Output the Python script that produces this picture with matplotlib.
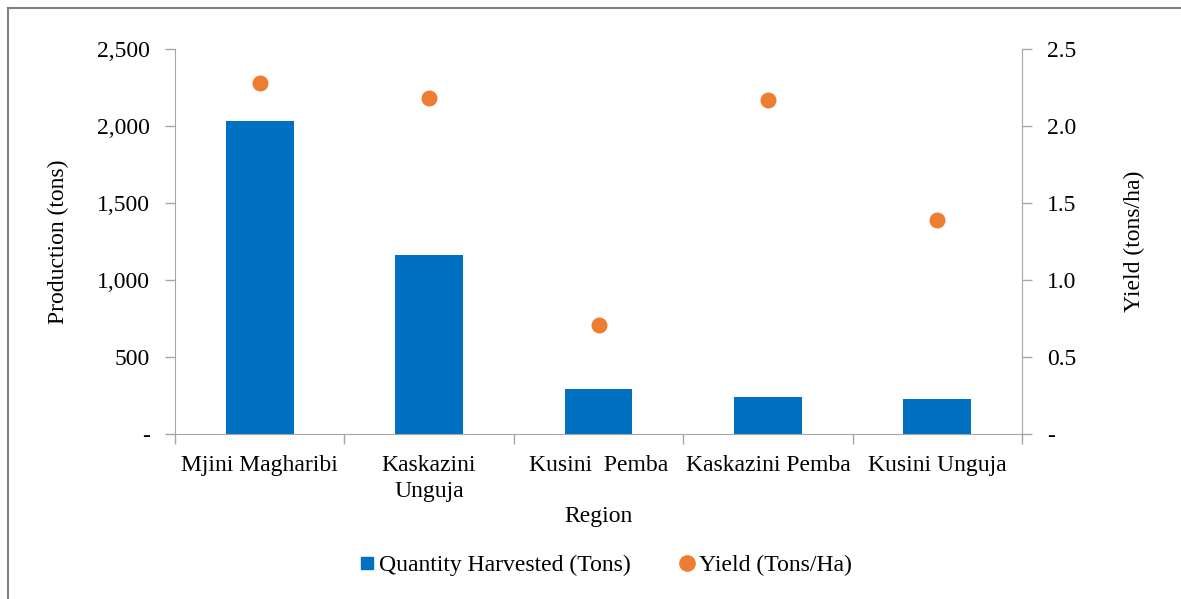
import matplotlib.pyplot as plt
from matplotlib.lines import Line2D
from matplotlib.ticker import FuncFormatter

regions = ["Mjini Magharibi", "Kaskazini\nUnguja", "Kusini  Pemba", "Kaskazini Pemba", "Kusini Unguja"]
quantity = [2030, 1165, 290, 240, 228]
yield_ha = [2.28, 2.18, 0.71, 2.17, 1.39]

BLUE = "#0070C0"
ORANGE = "#ED7D31"
GREY = "#A6A6A6"

plt.rcParams["font.family"] = ["Liberation Serif", "DejaVu Serif"]
plt.rcParams["font.size"] = 17

fig = plt.figure(figsize=(11.81, 5.99), dpi=100)
ax = fig.add_axes([175 / 1181, 1 - 434 / 599, (1022 - 175) / 1181, (434 - 49) / 599])
ax2 = ax.twinx()

x = list(range(len(regions)))
ax.bar(x, quantity, width=0.4, color=BLUE, label="Quantity Harvested (Tons)", zorder=2)
ax2.scatter(x, yield_ha, s=110, color=ORANGE, label="Yield (Tons/Ha)", zorder=3)

ax.set_xlim(-0.5, len(regions) - 0.5)
ax.set_ylim(0, 2500)
ax.set_yticks(range(0, 2501, 500))
ax.yaxis.set_major_formatter(FuncFormatter(lambda v, p: "-" if v == 0 else f"{v:,.0f}"))
ax2.set_ylim(0, 2.5)
ax2.set_yticks([0, 0.5, 1.0, 1.5, 2.0, 2.5])
ax2.yaxis.set_major_formatter(FuncFormatter(lambda v, p: "-" if v == 0 else f"{v:.1f}"))

ax.set_xticks(x)
ax.set_xticklabels(regions, linespacing=1.3)
ax.set_xticks([i - 0.5 for i in range(len(regions) + 1)], minor=True)
ax.tick_params(axis="x", which="major", length=0, pad=15)
ax.tick_params(axis="x", which="minor", length=7, color=GREY, width=1)
ax.tick_params(axis="y", length=7, color=GREY, width=1, pad=11)
ax2.tick_params(axis="y", length=7, color=GREY, width=1, pad=11)

for a in (ax, ax2):
    a.spines["top"].set_visible(False)
    for s in ("left", "right", "bottom"):
        a.spines[s].set_color(GREY)
ax.spines["right"].set_visible(False)
ax2.spines["left"].set_visible(False)
ax2.spines["bottom"].set_visible(False)

ax.set_ylabel("Production (tons)", labelpad=20)
ax2.set_ylabel("Yield (tons/ha)", labelpad=34)
ax.set_xlabel("Region", labelpad=3)

handles = [
    Line2D([], [], marker="s", linestyle="none", color=BLUE, markersize=9),
    Line2D([], [], marker="o", linestyle="none", color=ORANGE, markersize=11),
]
fig.legend(handles, ["Quantity Harvested (Tons)", "Yield (Tons/Ha)"], loc="center",
           bbox_to_anchor=(605 / 1181, 1 - 565 / 599), ncol=2, frameon=False,
           handlelength=0.8, handletextpad=0.1, columnspacing=2.0, fontsize=17)

fig.add_artist(Line2D([8 / 1181, 8 / 1181], [0, 1 - 8 / 599], transform=fig.transFigure, color="#808080", lw=1.5))
fig.add_artist(Line2D([8 / 1181, 1], [1 - 8 / 599, 1 - 8 / 599], transform=fig.transFigure, color="#808080", lw=1.5))

fig.savefig("out.png", dpi=100)
